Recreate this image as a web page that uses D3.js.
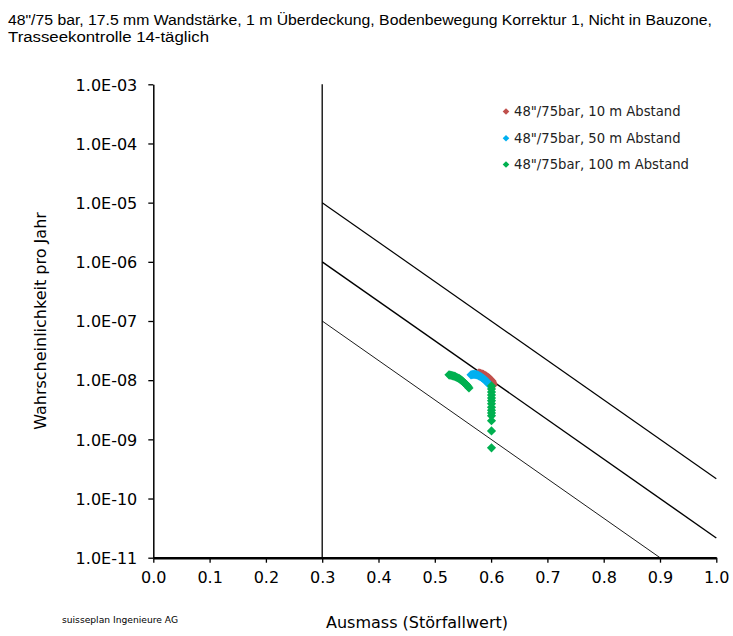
<!DOCTYPE html>
<html><head><meta charset="utf-8">
<script src="https://cdn.jsdelivr.net/npm/d3@7"></script>
<style>body{margin:0;background:#fff;} svg{display:block;}</style>
</head><body>
<svg id="c" width="733" height="636"></svg>
<script>
// ---- data ----
const titleLines = ["48\"/75 bar, 17.5 mm Wandstärke, 1 m Überdeckung, Bodenbewegung Korrektur 1, Nicht in Bauzone,",
                    "Trasseekontrolle 14-täglich"];
const xTicks = [0,0.1,0.2,0.3,0.4,0.5,0.6,0.7,0.8,0.9,1.0];
const xTickLabels = ["0.0","0.1","0.2","0.3","0.4","0.5","0.6","0.7","0.8","0.9","1.0"];
const yTicks = [1e-3,1e-4,1e-5,1e-6,1e-7,1e-8,1e-9,1e-10,1e-11];
const yTickLabels = ["1.0E-03","1.0E-04","1.0E-05","1.0E-06","1.0E-07","1.0E-08","1.0E-09","1.0E-10","1.0E-11"];
const seriesNames = ["48\"/75bar, 10 m Abstand","48\"/75bar, 50 m Abstand","48\"/75bar, 100 m Abstand"];
const seriesColors = ["#C0504D","#00B0F0","#00B050"];
// 10 m
const s10x = [0.5785,0.5812,0.5838,0.5865,0.5892,0.5918,0.5945,0.5963,0.5981,0.5998,0.6016,0.6025,0.6034,0.6034];
const s10y = [1.33e-8,1.31e-8,1.28e-8,1.25e-8,1.21e-8,1.17e-8,1.12e-8,1.08e-8,1.04e-8,1.0e-8,9.7e-9,9.2e-9,8.65e-9,8.2e-9];
// 50 m
const s50x = [0.5643,0.5661,0.5679,0.5697,0.5714,0.5732,0.5750,0.5768,0.5785,0.5803,0.5821,0.5839,0.5856,0.5874,0.5892,0.5910,0.5927,0.5945,0.5963];
const s50y = [1.23e-8,1.24e-8,1.25e-8,1.25e-8,1.25e-8,1.24e-8,1.23e-8,1.21e-8,1.18e-8,1.16e-8,1.14e-8,1.10e-8,1.07e-8,1.04e-8,1.01e-8,9.7e-9,9.35e-9,8.9e-9,8.5e-9];
// 100 m
const s100x = [0.5252,0.5270,0.5288,0.5305,0.5323,0.5341,0.5359,0.5376,0.5394,0.5412,0.5430,0.5447,0.5465,0.5483,0.5501,0.5518,0.5536,0.5554,0.5572,0.5590,0.5607,
               0.6007,0.6007,0.6007,0.6007,0.6007,0.6007,0.6007,0.6007,0.6007,0.6007,0.6007,0.6007,0.6007,0.6007];
const s100y = [1.23e-8,1.22e-8,1.21e-8,1.20e-8,1.18e-8,1.17e-8,1.16e-8,1.13e-8,1.11e-8,1.09e-8,1.07e-8,1.04e-8,1.01e-8,9.8e-9,9.5e-9,9.1e-9,8.8e-9,8.5e-9,8.2e-9,7.8e-9,7.4e-9,
               8.0e-9,7.1e-9,6.3e-9,5.6e-9,5.0e-9,4.5e-9,4.0e-9,3.5e-9,3.1e-9,2.8e-9,2.5e-9,2.06e-9,1.39e-9,7.2e-10];
// criteria lines (Ausmass, Wahrscheinlichkeit)
const lineUpper = [[0.3,1e-5],[1.0,Math.pow(10,-9.6667)]];
const lineMiddle = [[0.3,1e-6],[1.0,Math.pow(10,-10.6667)]];
const lineLower = [[0.3,1e-7],[0.9,1e-11]];
const vLine = [[0.3,1e-3],[0.3,1e-11]];

// ---- drawing ----
const svg = d3.select("#c");
const x = d3.scaleLinear().domain([0,1]).range([153.3,716.3]);
const y = d3.scaleLog().domain([1e-11,1e-3]).range([557.7,84.3]);
const F = "'DejaVu Sans', Verdana, sans-serif";

// title
svg.append("text").attr("x",8).attr("y",25).attr("font-family","'Liberation Sans Narrow','Liberation Sans',Arial,sans-serif")
  .attr("font-size",14).attr("textLength",704).attr("lengthAdjust","spacingAndGlyphs").attr("fill","#000").text(titleLines[0]);
svg.append("text").attr("x",8).attr("y",42).attr("font-family","'Liberation Sans Narrow','Liberation Sans',Arial,sans-serif")
  .attr("font-size",14).attr("textLength",201).attr("lengthAdjust","spacingAndGlyphs").attr("fill","#000").text(titleLines[1]);

const line = d3.line().x(d=>x(d[0])).y(d=>y(d[1]));
svg.append("path").attr("d",line(vLine)).attr("stroke","#000").attr("stroke-width",1.3).attr("fill","none");
svg.append("path").attr("d",line(lineUpper)).attr("stroke","#000").attr("stroke-width",1.2).attr("fill","none");
svg.append("path").attr("d",line(lineMiddle)).attr("stroke","#000").attr("stroke-width",1.4).attr("fill","none");
svg.append("path").attr("d",line(lineLower)).attr("stroke","#000").attr("stroke-width",0.9).attr("fill","none");

// axes
const yAxis = d3.axisLeft(y).tickValues(yTicks).tickFormat((d,i)=>yTickLabels[i]).tickSize(5).tickSizeOuter(0);
const gy = svg.append("g").attr("transform","translate(153.3,0)").call(yAxis);
gy.select(".domain").attr("stroke-width",1.5);
gy.selectAll(".tick line").attr("stroke-width",1.3);
gy.selectAll("text").attr("font-family",F).attr("font-size",16).attr("fill","#000").attr("x",-16).attr("dy","0.36em");

const xAxis = d3.axisBottom(x).tickValues(xTicks).tickFormat((d,i)=>xTickLabels[i]).tickSize(5).tickSizeOuter(0);
const gx = svg.append("g").attr("transform","translate(0,557.7)").call(xAxis);
gx.select(".domain").attr("stroke-width",2.5);
gx.selectAll(".tick line").attr("stroke-width",1.3);
gx.selectAll("text").attr("font-family",F).attr("font-size",16).attr("fill","#000").attr("y",14).attr("dy","0.71em");

// axis titles
svg.append("text").attr("x",417).attr("y",628).attr("text-anchor","middle").attr("font-family",F).attr("font-size",16).text("Ausmass (Störfallwert)");
svg.append("text").attr("transform","translate(46,321) rotate(-90)").attr("text-anchor","middle").attr("font-family",F).attr("font-size",16).text("Wahrscheinlichkeit pro Jahr");
svg.append("text").attr("x",62).attr("y",623).attr("font-family",F).attr("font-size",9).attr("textLength",116).attr("lengthAdjust","spacingAndGlyphs").text("suisseplan Ingenieure AG");

// series
const diamond = d3.symbol().type(d3.symbolSquare).size(42);
const series = [[s10x,s10y],[s50x,s50y],[s100x,s100y]];
series.forEach((s,si)=>{
  const pts = s[0].map((v,i)=>[v,s[1][i]]);
  svg.append("g").selectAll("path").data(pts).join("path")
    .attr("d",diamond)
    .attr("transform",d=>`translate(${x(d[0])},${y(d[1])}) rotate(45)`)
    .attr("fill",seriesColors[si]);
});

// legend
const legY = [111.5,138.3,164.5];
seriesNames.forEach((n,i)=>{
  svg.append("path").attr("d",d3.symbol().type(d3.symbolSquare).size(22)())
    .attr("transform",`translate(506,${legY[i]}) rotate(45)`).attr("fill",seriesColors[i]);
  svg.append("text").attr("x",514).attr("y",legY[i]).attr("dy","0.36em").attr("font-family",F).attr("font-size",13.2).attr("fill","#222").text(n);
});
</script>
</body></html>
